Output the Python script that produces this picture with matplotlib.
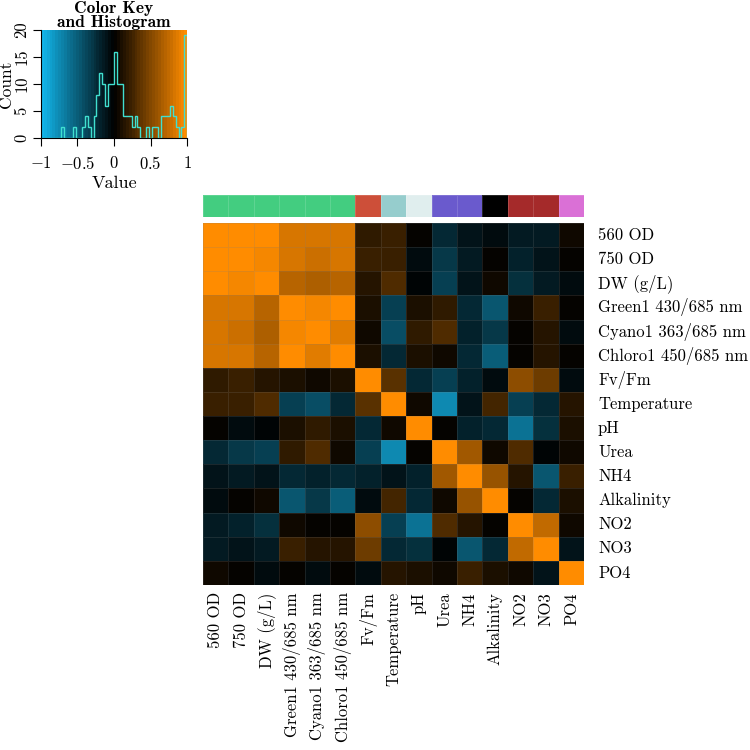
import numpy as np
import matplotlib
matplotlib.use("Agg")
import matplotlib.pyplot as plt
from matplotlib.colors import LinearSegmentedColormap, ListedColormap, BoundaryNorm

plt.rcParams['font.family'] = 'cmr10'
plt.rcParams['mathtext.fontset'] = 'cm'
plt.rcParams['axes.unicode_minus'] = False

labels = ["560 OD", "750 OD", "DW (g/L)", "Green1 430/685 nm", "Cyano1 363/685 nm",
          "Chloro1 450/685 nm", "Fv/Fm", "Temperature", "pH", "Urea", "NH4",
          "Alkalinity", "NO2", "NO3", "PO4"]

# correlation matrix
corr = [
    [1.00, 0.98, 0.96, 0.81, 0.80, 0.82, 0.16, 0.23, 0.00, -0.22, -0.11, -0.07, -0.16, -0.13, 0.05],
    [0.98, 1.00, 0.95, 0.80, 0.78, 0.83, 0.21, 0.23, -0.05, -0.30, -0.13, 0.00, -0.17, -0.08, 0.00],
    [0.96, 0.95, 1.00, 0.70, 0.66, 0.70, 0.14, 0.31, -0.03, -0.33, -0.12, 0.07, -0.26, -0.13, -0.05],
    [0.81, 0.80, 0.70, 1.00, 0.95, 0.99, 0.11, -0.33, 0.12, 0.18, -0.24, -0.48, 0.05, 0.20, 0.00],
    [0.80, 0.78, 0.66, 0.95, 1.00, 0.88, 0.07, -0.41, 0.17, 0.30, -0.18, -0.30, 0.00, 0.14, -0.06],
    [0.82, 0.83, 0.70, 0.99, 0.88, 1.00, 0.10, -0.22, 0.10, 0.07, -0.23, -0.52, 0.00, 0.13, 0.00],
    [0.16, 0.21, 0.14, 0.11, 0.07, 0.10, 1.00, 0.35, -0.24, -0.33, -0.18, -0.05, 0.52, 0.41, -0.07],
    [0.23, 0.23, 0.31, -0.33, -0.41, -0.22, 0.35, 1.00, 0.07, -0.74, -0.10, 0.27, -0.33, -0.22, 0.14],
    [0.00, -0.05, -0.03, 0.12, 0.17, 0.10, -0.24, 0.07, 1.00, 0.00, -0.19, -0.23, -0.64, -0.26, 0.10],
    [-0.22, -0.30, -0.33, 0.18, 0.30, 0.07, -0.33, -0.74, 0.00, 1.00, 0.63, 0.08, 0.30, -0.03, 0.08],
    [-0.11, -0.13, -0.12, -0.24, -0.18, -0.23, -0.18, -0.10, -0.19, 0.63, 1.00, 0.60, 0.14, -0.44, 0.22],
    [-0.07, 0.00, 0.07, -0.48, -0.30, -0.52, -0.05, 0.27, -0.23, 0.08, 0.60, 1.00, 0.00, -0.22, 0.10],
    [-0.16, -0.17, -0.26, 0.05, 0.00, 0.00, 0.52, -0.33, -0.64, 0.30, 0.14, 0.00, 1.00, 0.72, 0.06],
    [-0.13, -0.08, -0.13, 0.20, 0.14, 0.13, 0.41, -0.22, -0.26, -0.03, -0.44, -0.22, 0.72, 1.00, -0.10],
    [0.05, 0.00, -0.05, 0.00, -0.06, 0.00, -0.07, 0.14, 0.10, 0.08, 0.22, 0.10, 0.06, -0.10, 1.00],
]

side_colors = ['#43CD80'] * 6 + ['#CD4F39', '#96CDCD', '#E0EEEE', '#6A5ACD', '#6A5ACD',
                                 '#000000', '#A52A2A', '#A52A2A', '#DA70D6']

# histogram counts in the colour key, 50 bins from -1 to 1
hist_counts = [0, 0, 0, 0, 0, 0, 0, 2, 0, 0,
               0, 2, 0, 0, 2, 4, 2, 0, 4, 8,
               12, 10, 6, 10, 10, 16, 10, 10, 4, 4,
               4, 2, 4, 2, 0, 0, 2, 0, 2, 2,
               0, 4, 4, 4, 6, 4, 2, 0, 2, 19]

breaks = np.linspace(-1, 1, 51)
ramp = LinearSegmentedColormap.from_list("bo", ['#12B5EA', '#000000', '#FF8C00'])
cmap = ListedColormap(ramp(np.linspace(0, 1, 50)))
norm = BoundaryNorm(breaks, cmap.N)

fig = plt.figure(figsize=(7.5, 7.5), dpi=100)

# main heatmap
ax = fig.add_axes([0.2707, 0.22, 0.508, 0.4827])
m = np.array(corr)
ax.pcolormesh(m, cmap=cmap, norm=norm, edgecolors=(0.5, 0.5, 0.5, 0.2), linewidth=0.4)
ax.set_xlim(0, 15)
ax.set_ylim(15, 0)
ax.set_xticks([])
ax.set_yticks([])
for s in ax.spines.values():
    s.set_visible(False)
n = len(labels)
for i, lab in enumerate(labels):
    ax.text(15.55, i + 0.5, lab, ha='left', va='center', fontsize=12)
    ax.text(i + 0.5, 15.3, lab, ha='center', va='top', rotation=90, fontsize=12)

# column side colours
axc = fig.add_axes([0.2707, 0.7107, 0.508, 0.0293])
axc.pcolormesh(np.arange(n)[None, :], cmap=ListedColormap(side_colors),
               edgecolors=(1, 1, 1, 0.15), linewidth=0.4)
axc.set_xlim(0, n)
axc.set_xticks([])
axc.set_yticks([])
for s in axc.spines.values():
    s.set_visible(False)

# colour key with histogram
axk = fig.add_axes([0.0543, 0.816, 0.1955, 0.144])
axk.pcolormesh(breaks, [0, 20], (breaks[:-1] + 0.02)[None, :], cmap=cmap, norm=norm)
axk.stairs(hist_counts, breaks, color='#40E0D0', linewidth=1.0)
axk.set_xlim(-1, 1)
axk.set_ylim(0, 20)
axk.spines['top'].set_visible(False)
axk.spines['right'].set_visible(False)
axk.set_xticks([-1, -0.5, 0, 0.5, 1])
axk.set_xticklabels(['$-1$', '$-0.5$', '$0$', '$0.5$', '$1$'], fontsize=12)
axk.set_yticks([0, 5, 10, 15, 20])
axk.set_yticklabels(['0', '5', '10', '15', '20'], rotation=90, va='center', fontsize=12)
axk.tick_params(length=6, width=0.8)
axk.tick_params(axis='x', pad=6)
axk.tick_params(axis='y', pad=2)
axk.set_xlabel('Value', fontsize=13, labelpad=3)
axk.set_ylabel('Count', fontsize=12.5, labelpad=0)
axk.set_title('Color Key\nand Histogram', fontsize=12.5, family='cmb10', linespacing=0.9, pad=-6)

plt.savefig('out.png')
